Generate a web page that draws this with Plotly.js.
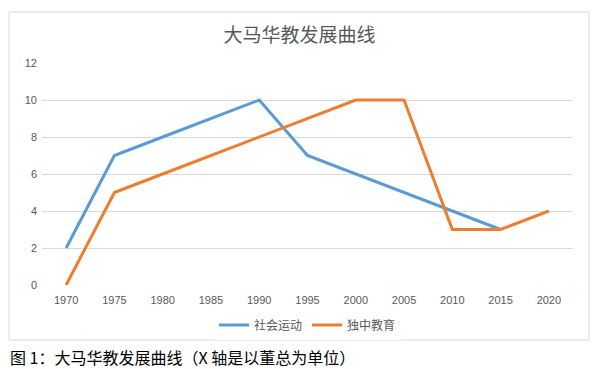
<!DOCTYPE html>
<html><head><meta charset="utf-8">
<script src="https://cdn.plot.ly/plotly-3.0.1.min.js"></script>
<style>body{margin:0;background:#fff}#c{width:599px;height:369px}</style>
</head><body><div id="c"></div>
<script>
const years = [1970,1975,1980,1985,1990,1995,2000,2005,2010,2015,2020];
const socialMovement = [2,7,8,9,10,7,6,5,4,3,null];
const independentSchool = [0,5,6,7,8,9,10,10,3,3,4];
const seriesNames = ["社会运动","独中教育"];
const yTicks = [0,2,4,6,8,10,12];
const chartTitle = "大马华教发展曲线";
const caption = "图 1：大马华教发展曲线（X 轴是以董总为单位）";

const axisFont = {family:"Liberation Sans, Noto Sans, sans-serif", size:11, color:"#595959"};
const traces = [
  {x:years, y:socialMovement, name:seriesNames[0], type:"scatter", mode:"lines",
   line:{color:"#5b9bd5", width:3}},
  {x:years, y:independentSchool, name:seriesNames[1], type:"scatter", mode:"lines",
   line:{color:"#ed7d31", width:3}}
];
const layout = {
  width:599, height:369,
  margin:{l:42, r:26, t:63, b:84},
  paper_bgcolor:"#fff", plot_bgcolor:"#fff",
  title:{text:chartTitle, x:0.5, xanchor:"center", y:1-35/369, yanchor:"middle",
         font:{family:"Noto Sans CJK SC, sans-serif", size:19, color:"#595959"}},
  xaxis:{range:[1967.5,2022.5], tickvals:years, ticktext:years.map(String),
         showgrid:false, zeroline:false, showline:false, ticks:"", tickfont:axisFont,
         ticklabelstandoff:7},
  yaxis:{range:[0,12], tickvals:yTicks, showgrid:true, gridcolor:"#d9d9d9", gridwidth:1,
         zeroline:false, showline:false, ticks:"", tickfont:axisFont, ticklabelstandoff:4},
  showlegend:true,
  legend:{orientation:"h", x:0.5, xanchor:"center", y:-40/222, yanchor:"middle",
          font:{family:"Noto Sans CJK SC, sans-serif", size:12, color:"#595959"},
          itemwidth:30, tracegroupgap:0},
  shapes:[{type:"rect", xref:"paper", yref:"paper", x0:-33/531, x1:547/531, y0:-55/222, y1:273/222,
           line:{color:"#d9d9d9", width:1}, fillcolor:"rgba(0,0,0,0)", layer:"below"}],
  annotations:[{text:caption, xref:"paper", yref:"paper", x:-34/531, xanchor:"left",
                y:-72/222, yanchor:"middle", showarrow:false,
                font:{family:"Noto Sans CJK SC, sans-serif", size:16, weight:"normal", color:"#000"}}]
};
Plotly.newPlot("c", traces, layout, {displayModeBar:false, staticPlot:true});
</script></body></html>
